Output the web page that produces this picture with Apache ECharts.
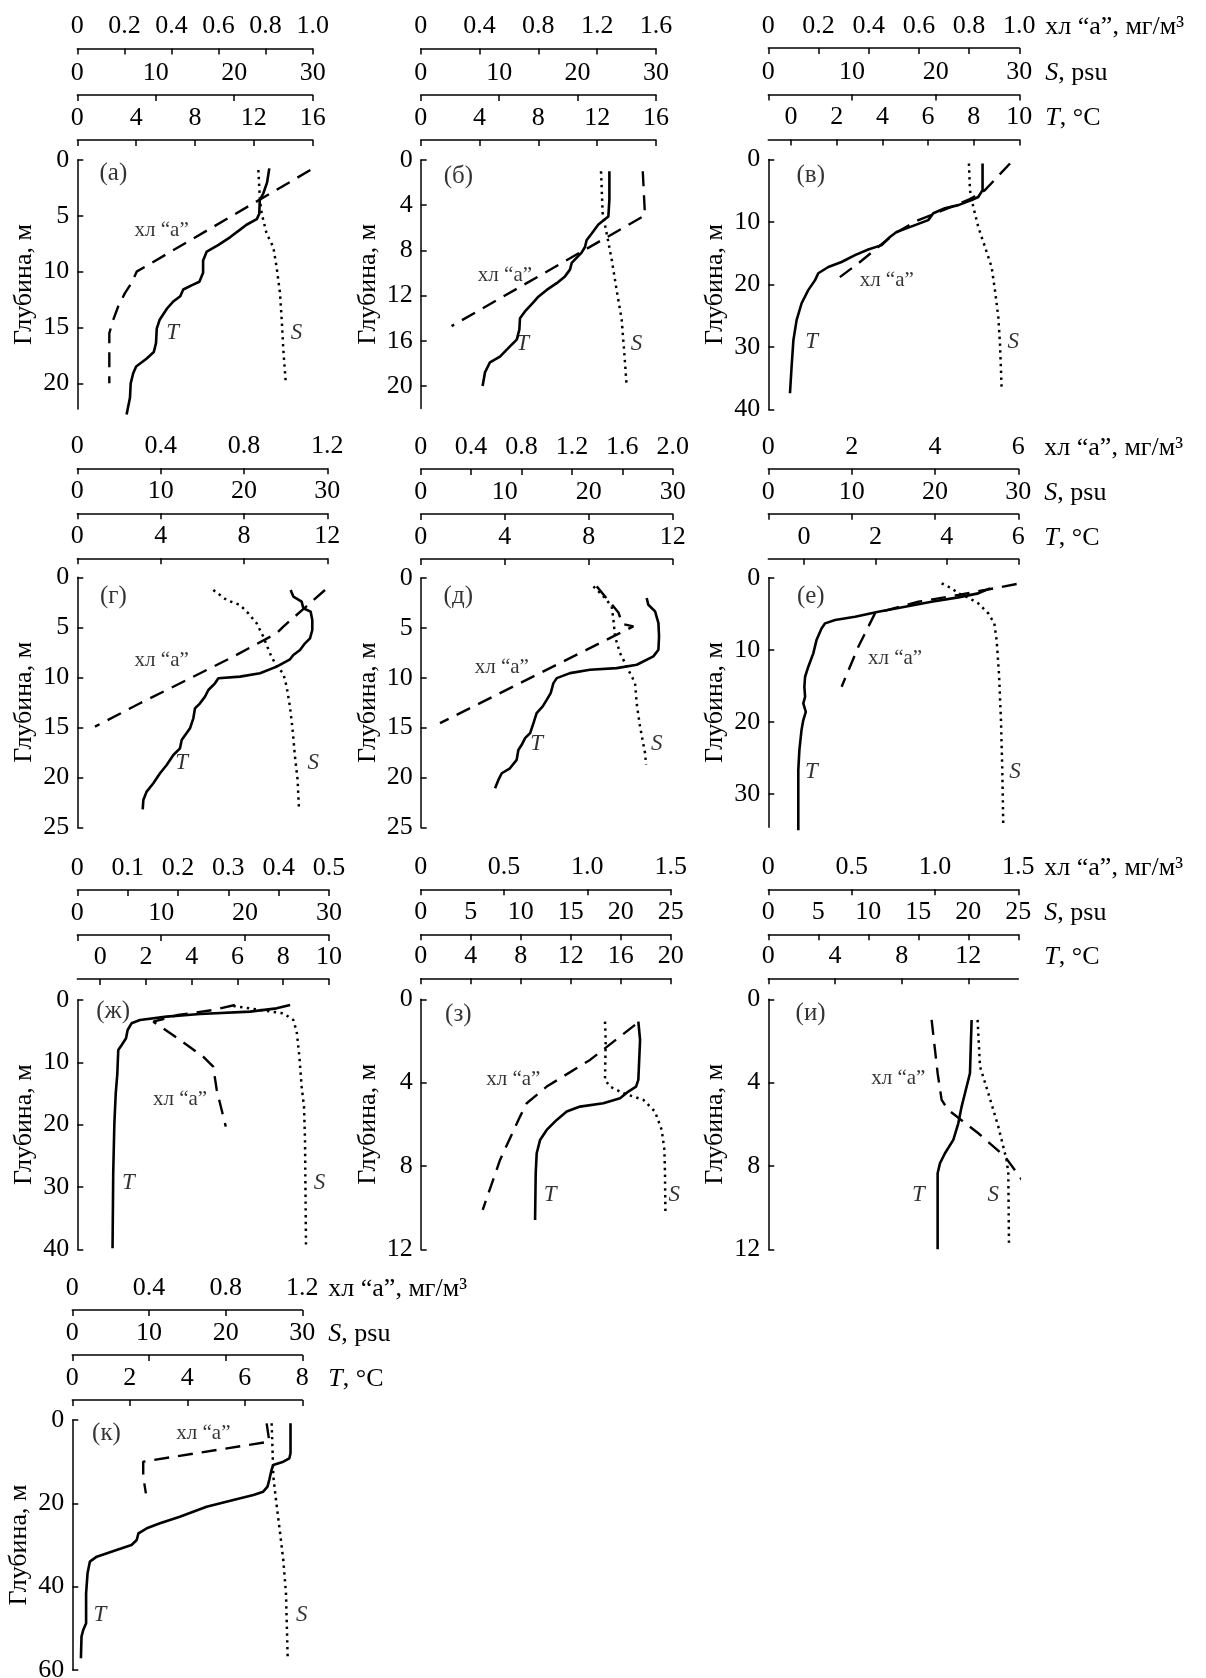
<!DOCTYPE html>
<html><head><meta charset="utf-8">
<script src="https://cdn.jsdelivr.net/npm/echarts@6/dist/echarts.min.js"></script>
<style>html,body{margin:0;padding:0;background:#fff}#c{width:1206px;height:1678px}</style>
</head><body><div id="c"></div><script>
// ---------- DATA (value, depth m) ----------
// panel (а)
const a_T = [[13.05,0.75],[12.9,2],[12.64,3],[12.4,3.6],[12.37,4.8],[12.2,5.3],[11.5,5.8],[11.0,6.3],[10.4,6.9],[9.6,7.6],[8.8,8.2],[8.55,9.0],[8.55,10.1],[8.3,10.9],[7.8,11.2],[7.2,11.6],[7.0,12.2],[6.5,12.7],[6.1,13.3],[5.6,14.3],[5.4,15.1],[5.35,16.4],[5.2,17.2],[4.7,17.8],[4.0,18.5],[3.8,19.1],[3.63,20],[3.58,21.3],[3.35,22.8]];
const a_S = [[23.07,0.9],[23.28,3.6],[23.5,4.8],[24.13,6.6],[24.98,7.8],[25.4,9.6],[25.83,11.9],[26.05,14.3],[26.26,17],[26.56,19.9]];
const a_C = [[0.99,0.9],[0.252,10],[0.231,11],[0.203,11.9],[0.174,13.1],[0.153,14.3],[0.136,15.5],[0.136,20]];
// panel (б)
const b_T = [[12.83,1],[12.83,3.5],[12.76,5.0],[12.08,5.7],[11.63,6.5],[11.28,7.1],[11.17,7.7],[10.94,8.2],[10.27,9.1],[10.15,9.7],[9.81,10.3],[9.25,10.9],[8.57,11.5],[8.0,12.1],[7.66,12.6],[7.09,13.4],[6.75,14.0],[6.71,15],[6.53,15.9],[6.07,16.5],[5.39,17.4],[4.71,17.9],[4.37,18.8],[4.21,20]];
const b_S = [[22.99,1],[23.2,4.7],[23.71,6.5],[24.35,8.8],[24.98,11.5],[25.62,14.1],[25.96,17.1],[26.26,20]];
const b_C = [[1.51,1],[1.525,4.9],[0.21,14.7]];
// panel (в)
const v_T = [[8.39,0.64],[8.39,4.9],[8.2,6.0],[7.91,6.5],[7.33,7.3],[6.74,7.8],[6.23,8.6],[6.01,9.7],[5.72,10.1],[5.14,10.9],[4.62,11.6],[4.33,12.4],[3.97,13.7],[3.38,14.4],[2.8,15.3],[2.21,16.4],[1.63,17.2],[1.19,18.2],[1.05,19.3],[0.75,20.9],[0.46,23.0],[0.24,25.7],[0.1,28.9],[0.02,33.2],[-0.05,37.4]];
const v_S = [[23.98,0.64],[24.1,4.9],[24.5,7.6],[25.1,10.8],[25.9,14.0],[26.69,17.2],[27.09,20.9],[27.49,25.2],[27.69,29.4],[27.89,36.6]];
const v_C = [[0.963,0.64],[0.863,4.9],[0.81,6.2],[0.717,7.8],[0.598,9.7],[0.505,11.8],[0.438,14.0],[0.359,16.6],[0.259,19.6]];
// panel (г)
const g_T = [[10.24,1.27],[10.37,1.93],[10.77,2.43],[10.85,3.1],[11.2,3.43],[11.28,4.27],[11.28,5.27],[11.17,6.1],[10.93,6.6],[10.69,7.27],[10.37,7.77],[10.21,8.2],[9.57,8.93],[8.77,9.6],[7.81,9.93],[6.77,10.1],[6.61,10.6],[6.29,11.27],[6.13,11.93],[5.89,12.6],[5.65,13.1],[5.57,14.1],[5.41,15.1],[5.01,16.27],[4.93,17.1],[4.61,17.77],[4.29,18.77],[3.97,19.6],[3.65,20.6],[3.33,21.43],[3.17,22.27],[3.14,23.2]];
const g_S = [[16.32,1.27],[17.92,2.27],[19.52,2.77],[20.52,3.6],[21.52,4.6],[22.32,5.93],[23.12,7.6],[23.92,8.93],[24.72,9.6],[25.12,10.93],[25.52,12.93],[25.84,15.27],[26.12,17.93],[26.44,20.27],[26.6,23.2]];
const g_C = [[1.189,1.27],[0.989,4.93],[0.957,5.6],[0.749,7.93],[0.525,10.27],[0.301,12.6],[0.085,14.93]];
// panel (д)
const d_T = [[10.76,2.0],[10.84,2.68],[11.16,3.35],[11.32,4.52],[11.35,5.86],[11.32,7.2],[11.08,7.86],[10.29,8.7],[9.33,9.04],[8.06,9.2],[7.11,9.54],[6.48,10.04],[6.32,10.54],[6.19,11.55],[6.0,12.22],[5.81,12.88],[5.52,13.55],[5.37,14.56],[5.21,15.56],[4.97,16.06],[4.81,16.73],[4.65,17.24],[4.57,18.24],[4.25,19.08],[3.86,19.58],[3.7,20.25],[3.54,21.08]];
const d_S = [[20.56,0.84],[21.75,1.84],[22.74,2.84],[22.94,4.18],[23.13,5.86],[23.73,7.53],[24.52,8.87],[25.52,10.54],[25.71,12.55],[26.11,14.89],[26.71,17.57],[26.83,18.74]];
const d_C = [[1.397,0.84],[1.569,3.45],[1.6,4.6],[1.688,4.85],[0.153,14.56]];
// panel (е)
const e_T = [[5.21,1.48],[4.88,2.17],[4.32,2.73],[3.57,3.33],[2.83,4.02],[2.08,4.72],[1.43,5.41],[0.87,5.87],[0.59,6.33],[0.49,7.03],[0.35,8.65],[0.26,10.49],[0.12,12.34],[0.03,13.73],[0.01,15.12],[0.03,16.5],[-0.02,17.43],[0.05,18.59],[-0.02,19.74],[-0.07,21.13],[-0.13,23.9],[-0.16,26.68],[-0.16,30.38],[-0.16,35.0]];
const e_S = [[20.8,0.79],[22.0,1.48],[22.8,2.17],[23.8,2.64],[25.2,3.56],[26.4,4.95],[27.12,6.33],[27.4,8.65],[27.68,13.27],[27.92,19.74],[28.08,26.68],[28.2,34.54]];
const e_C = [[5.96,0.88],[5.2,1.71],[4.56,2.4],[3.6,3.33],[2.56,4.95],[2.16,9.57],[1.76,15.12]];
// panel (ж)
const zh_T = [[8.3,0.8],[7.71,1.34],[6.55,1.87],[4.36,2.25],[2.9,2.67],[1.74,3.21],[1.37,3.74],[1.2,4.81],[1.13,6.15],[0.94,7.22],[0.79,8.02],[0.75,11.76],[0.68,14.97],[0.62,19.79],[0.57,27.8],[0.54,39.84]];
const zh_S = [[18.6,0.96],[21.78,1.6],[24.56,2.14],[25.75,3.21],[26.15,5.08],[26.47,9.09],[26.74,13.9],[27.02,17.11],[27.14,22.46],[27.26,39.84]];
const zh_C = [[0.313,0.8],[0.27,1.6],[0.2,2.41],[0.151,3.48],[0.204,6.42],[0.25,9.09],[0.27,10.7],[0.277,14.44],[0.295,20.32]];
// panel (з)
const z_T = [[17.41,1.07],[17.55,1.95],[17.41,3.87],[17.23,4.19],[16.61,4.43],[15.95,4.75],[14.61,4.99],[12.75,5.15],[11.68,5.39],[10.88,5.79],[10.08,6.27],[9.55,6.75],[9.28,7.39],[9.2,8.35],[9.15,10.59]];
const z_S = [[18.43,1.07],[18.5,1.95],[18.43,3.87],[18.93,4.19],[20.27,4.51],[22.27,4.83],[23.43,5.39],[24.1,6.27],[24.37,7.23],[24.43,8.35],[24.47,10.27]];
const z_C = [[1.286,1.23],[1.016,2.91],[0.756,4.19],[0.636,4.99],[0.596,5.63],[0.476,7.71],[0.372,10.11]];
// panel (и)
const i_T = [[12.2,0.99],[12.16,1.95],[12.1,3.55],[11.8,4.51],[11.6,5.15],[11.4,5.95],[11.1,6.75],[10.6,7.39],[10.3,7.87],[10.16,8.35],[10.16,12.0]];
const i_S = [[20.93,0.99],[21.17,3.23],[22.0,4.51],[23.0,6.11],[23.83,7.71],[24.0,8.35],[24.07,11.87]];
const i_C = [[0.98,0.99],[1.016,3.55],[1.04,4.83],[1.08,5.31],[1.26,6.43],[1.42,7.55],[1.53,8.75]];
// panel (к)
const k_T = [[7.59,0.8],[7.59,8],[7.55,9.2],[7.34,10],[6.99,10.8],[6.93,12],[6.85,14.4],[6.79,16],[6.64,17.2],[6.3,18],[5.6,19.2],[4.67,20.8],[3.74,23.2],[3.05,24.8],[2.59,26],[2.3,27.2],[2.24,28.8],[2.06,30],[1.54,31.2],[0.85,32.8],[0.61,34],[0.53,36.8],[0.48,41.6],[0.48,48.8],[0.38,50.4],[0.32,52],[0.3,57.2]];
const k_S = [[26.0,0.8],[26.13,8],[26.22,13.6],[26.57,19.2],[27.0,25.6],[27.52,33.6],[27.87,41.6],[28.09,56.8]];
const k_C = [[1.014,0.8],[1.028,5.2],[0.37,10],[0.37,13.6],[0.384,17.6]];

// ---------- TICK LABELS ----------
const ticksC_a = [0,0.2,0.4,0.6,0.8,1.0], ticksS_a = [0,10,20,30], ticksT_a = [0,4,8,12,16], ticksD_a = [0,5,10,15,20];
const ticksC_b = [0,0.4,0.8,1.2,1.6], ticksS_b = [0,10,20,30], ticksT_b = [0,4,8,12,16], ticksD_b = [0,4,8,12,16,20];
const ticksC_v = [0,0.2,0.4,0.6,0.8,1.0], ticksS_v = [0,10,20,30], ticksT_v = [0,2,4,6,8,10], ticksD_v = [0,10,20,30,40];
const ticksC_g = [0,0.4,0.8,1.2], ticksS_g = [0,10,20,30], ticksT_g = [0,4,8,12], ticksD_g = [0,5,10,15,20,25];
const ticksC_d = [0,0.4,0.8,1.2,1.6,2.0], ticksS_d = [0,10,20,30], ticksT_d = [0,4,8,12], ticksD_d = [0,5,10,15,20,25];
const ticksC_e = [0,2,4,6], ticksS_e = [0,10,20,30], ticksT_e = [0,2,4,6], ticksD_e = [0,10,20,30];
const ticksC_zh = [0,0.1,0.2,0.3,0.4,0.5], ticksS_zh = [0,10,20,30], ticksT_zh = [0,2,4,6,8,10], ticksD_zh = [0,10,20,30,40];
const ticksC_z = [0,0.5,1.0,1.5], ticksS_z = [0,5,10,15,20,25], ticksT_z = [0,4,8,12,16,20], ticksD_z = [0,4,8,12];
const ticksC_i = [0,0.5,1.0,1.5], ticksS_i = [0,5,10,15,20,25], ticksT_i = [0,4,8,12], ticksD_i = [0,4,8,12];
const ticksC_k = [0,0.4,0.8,1.2], ticksS_k = [0,10,20,30], ticksT_k = [0,2,4,6,8], ticksD_k = [0,20,40,60];

// ---------- LAYOUT ----------
const INK = '#000000';
const FONT = '"Liberation Serif","DejaVu Serif",serif';
const R1 = [20,65,111.5], R2 = [19,64,109], R3 = [21,65,110], R4 = [20,65,110];
const panels = [
 {lab:'(а)', g:{left:77.3,top:160,width:235.4,height:249}, off:R1, C:[0,1.0], S:[0,30], T:[0,16], D:22.3, tc:ticksC_a, ts:ticksS_a, tt:ticksT_a, td:ticksD_a, dT:a_T, dS:a_S, dC:a_C, names:false,
  ann:[[2.45,1.2],[5.73,6.27],[6.48,15.5],[14.9,15.5]]},
 {lab:'(б)', g:{left:420.7,top:160,width:235.3,height:248.6}, off:R1, C:[0,1.6], S:[0,30], T:[0,16], D:22, tc:ticksC_b, ts:ticksS_b, tt:ticksT_b, td:ticksD_b, dT:b_T, dS:b_S, dC:b_C, names:false,
  ann:[[2.56,1.47],[5.73,10.2],[6.93,16.3],[14.68,16.3]]},
 {lab:'(в)', g:{left:768.3,top:159.5,width:251,height:250}, off:R1, C:[0,1.0], S:[0,30], T:[-1,10], D:40, tc:ticksC_v, ts:ticksS_v, tt:ticksT_v, td:ticksD_v, dT:v_T, dS:v_S, dC:v_C, names:true,
  ann:[[0.86,2.5],[4.19,19.3],[0.9,29.2],[9.74,29.2]]},
 {lab:'(г)', g:{left:77.3,top:577.3,width:250,height:250}, off:R2, C:[0,1.2], S:[0,30], T:[0,12], D:25, tc:ticksC_g, ts:ticksS_g, tt:ticksT_g, td:ticksD_g, dT:g_T, dS:g_S, dC:g_C, names:false,
  ann:[[1.73,1.93],[4.05,8.27],[5.01,18.6],[11.33,18.6]]},
 {lab:'(д)', g:{left:420.7,top:578,width:252,height:249.3}, off:R2, C:[0,2.0], S:[0,30], T:[0,12], D:25, tc:ticksC_d, ts:ticksS_d, tt:ticksT_d, td:ticksD_d, dT:d_T, dS:d_S, dC:d_C, names:false,
  ann:[[1.79,1.84],[3.86,9.0],[5.52,16.6],[11.24,16.6]]},
 {lab:'(е)', g:{left:768.3,top:577.7,width:250,height:249.6}, off:R2, C:[0,6], S:[0,30], T:[-1,6], D:34.6, tc:ticksC_e, ts:ticksS_e, tt:ticksT_e, td:ticksD_e, dT:e_T, dS:e_S, dC:e_C, names:true,
  ann:[[0.19,2.6],[2.55,11.2],[0.21,26.9],[5.91,26.9]]},
 {lab:'(ж)', g:{left:77.3,top:1000,width:251.7,height:249.3}, off:R3, C:[0,0.5], S:[0,30], T:[-1,10], D:40, tc:ticksC_zh, ts:ticksS_zh, tt:ticksT_zh, td:ticksD_zh, dT:zh_T, dS:zh_S, dC:zh_C, names:false,
  ann:[[0.57,1.87],[3.49,16.0],[1.23,29.4],[9.58,29.4]]},
 {lab:'(з)', g:{left:420.7,top:999.3,width:250,height:250}, off:R3, C:[0,1.5], S:[0,25], T:[0,20], D:12, tc:ticksC_z, ts:ticksS_z, tt:ticksT_z, td:ticksD_z, dT:z_T, dS:z_S, dC:z_C, names:false,
  ann:[[3.01,0.75],[7.41,3.87],[10.35,9.39],[20.29,9.39]]},
 {lab:'(и)', g:{left:768.3,top:999.3,width:250,height:250}, off:R3, C:[0,1.5], S:[0,25], T:[0,15], D:12, tc:ticksC_i, ts:ticksS_i, tt:ticksT_i, td:ticksD_i, dT:i_T, dS:i_S, dC:i_C, names:true,
  ann:[[2.54,0.67],[7.8,3.79],[9.0,9.4],[13.5,9.4]]},
 {lab:'(к)', g:{left:72.3,top:1420,width:230,height:250}, off:R4, C:[0,1.2], S:[0,30], T:[0,8], D:60, tc:ticksC_k, ts:ticksS_k, tt:ticksT_k, td:ticksD_k, dT:k_T, dS:k_S, dC:k_C, names:true,
  ann:[[1.19,3.2],[4.56,3.2],[0.96,46.8],[7.98,46.8]]}
];

const FS = 26;
function fmt(ticks){
  const dec = ticks.some(t => !Number.isInteger(t));
  return v => (v === 0 ? '0' : (dec ? Number(v).toFixed(1) : String(v)));
}
const richName = {
  i:{fontStyle:'italic', fontFamily:FONT, fontSize:FS, color:INK},
  n:{fontFamily:FONT, fontSize:FS, color:INK}
};
function xAx(gi, range, ticks, offset, name){
  return {
    gridIndex:gi, type:'value', position:'top', offset:offset, min:range[0], max:range[1],
    axisLine:{show:true, onZero:false, lineStyle:{color:INK, width:1.5}},
    axisTick:{show:true, inside:true, length:6, customValues:ticks, lineStyle:{color:INK, width:1.5}},
    axisLabel:{show:true, customValues:ticks, formatter:fmt(ticks), margin:9, color:INK, fontFamily:FONT, fontSize:FS, hideOverlap:false},
    splitLine:{show:false},
    name:name || '', nameLocation:'end', nameGap:26, nameMoveOverlap:false,
    nameTextStyle:{fontFamily:FONT, fontSize:FS, color:INK, align:'left', verticalAlign:'bottom', padding:[0,0,8,0], rich:richName}
  };
}

const grids = [], xAxes = [], yAxes = [], series = [];
panels.forEach((p, i) => {
  grids.push(Object.assign({containLabel:false, outerBoundsMode:'none'}, p.g));
  xAxes.push(xAx(i, p.C, p.tc, p.off[2], p.names ? '{n|хл “а”, мг/м³}' : ''));
  xAxes.push(xAx(i, p.S, p.ts, p.off[1], p.names ? '{i|S}{n|, psu}' : ''));
  xAxes.push(xAx(i, p.T, p.tt, p.off[0], p.names ? '{i|T}{n|, °C}' : ''));
  yAxes.push({
    gridIndex:i, type:'value', inverse:true, min:0, max:p.D, position:'left',
    axisLine:{show:true, onZero:false, lineStyle:{color:INK, width:1.5}},
    axisTick:{show:true, inside:true, length:6, customValues:p.td, lineStyle:{color:INK, width:1.5}},
    axisLabel:{show:true, customValues:p.td, margin:8, color:INK, fontFamily:FONT, fontSize:FS, hideOverlap:false},
    splitLine:{show:false},
    name:'Глубина, м', nameLocation:'middle', nameGap:40, nameRotate:90, nameMoveOverlap:false,
    nameTextStyle:{fontFamily:FONT, fontSize:26, color:INK}
  });
  const base = {type:'line', yAxisIndex:i, showSymbol:false, symbol:'none', clip:false, silent:true, animation:false};
  series.push(Object.assign({}, base, {xAxisIndex:3*i+2, data:p.dT, lineStyle:{color:INK, width:2.6, type:'solid'}}));
  series.push(Object.assign({}, base, {xAxisIndex:3*i+1, data:p.dS, lineStyle:{color:INK, width:2.5, type:[2.4,4.4], cap:'butt'}}));
  series.push(Object.assign({}, base, {xAxisIndex:3*i, data:p.dC, lineStyle:{color:INK, width:2.4, type:[15,9]}}));
  const texts = [
    {t:p.lab, fs:25, it:false},
    {t:'хл “а”', fs:21, it:false},
    {t:'T', fs:23, it:true},
    {t:'S', fs:23, it:true}
  ];
  series.push({
    type:'scatter', xAxisIndex:3*i+2, yAxisIndex:i, symbolSize:1, clip:false, silent:true, animation:false,
    itemStyle:{color:'rgba(0,0,0,0)'},
    data:p.ann.map((a, k) => ({
      value:a,
      label:{show:true, position:'inside', formatter:texts[k].t, color:INK, fontFamily:FONT, fontSize:texts[k].fs, fontStyle:texts[k].it ? 'italic' : 'normal'}
    }))
  });
});

const chart = echarts.init(document.getElementById('c'), null, {renderer:'canvas'});
chart.setOption({
  backgroundColor:'#ffffff', animation:false,
  grid:grids, xAxis:xAxes, yAxis:yAxes, series:series
});
</script></body></html>
